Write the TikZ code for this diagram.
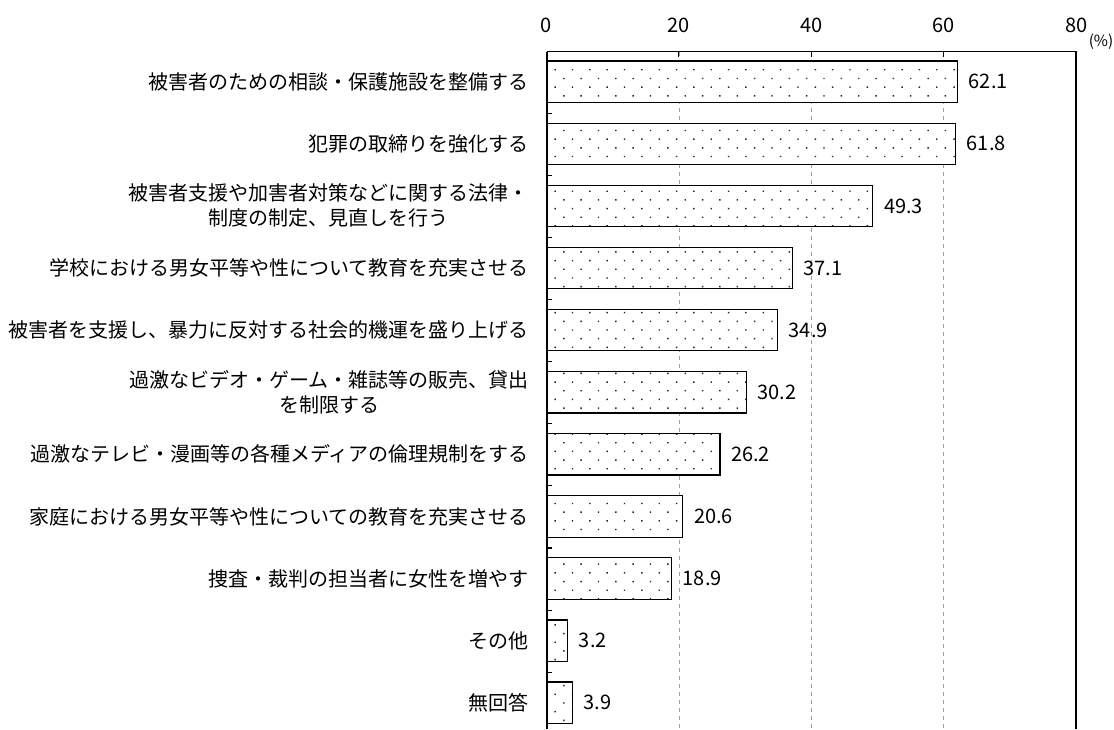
\documentclass[tikz,border=0pt]{standalone}
\usepackage{fontspec}
\setmainfont{Noto Sans CJK JP}
\usetikzlibrary{patterns.meta}
\begin{document}
\begin{tikzpicture}[x=0.75pt,y=-0.75pt,
    lab/.style={anchor=east,align=center,inner sep=0pt,
      font=\fontsize{15}{18.75}\selectfont},
    val/.style={anchor=west,inner sep=0pt,font=\fontsize{15}{18}\selectfont},
    bar/.style={draw=black,line width=0.9pt,preaction={fill=white},
      pattern={Dots[angle=45,distance=9.2pt,radius=0.75pt]},pattern color=black!85},
    grid/.style={draw=gray!75,dashed,line width=0.6pt}]
  \useasboundingbox (0,0) rectangle (1114,729);
  % scale: 0 % at 546.5, 6.62 per %
  \foreach \t in {20,40,60} {
    \draw[grid] ({546.5+\t*6.62},51.7) -- ({546.5+\t*6.62},729);
    \draw[line width=0.8pt] ({546.5+\t*6.62},51.7) -- ++(0,5);
  }
  \foreach \t in {0,20,40,60,80}
    \node[font=\fontsize{15}{18}\selectfont] (tick\t) at ({546.5+\t*6.62},25) {\t};
  \node[font=\fontsize{11.5}{13}\selectfont] (pct) at (1101,42) {(\%)};
  \draw[line width=1.1pt] (546.5,51.7) -- (1076,51.7) -- (1076,729);
  \foreach \k in {0,...,10}
    \draw[line width=0.8pt] (546.5,{113.3+\k*62.1}) -- ++(5,0);
  % bars
  \foreach \lab/\val [count=\i] in {
      {被害者のための相談・保護施設を整備する}/62.1,
      {犯罪の取締りを強化する}/61.8,
      {被害者支援や加害者対策などに関する法律・\\制度の制定、見直しを行う}/49.3,
      {学校における男女平等や性について教育を充実させる}/37.1,
      {被害者を支援し、暴力に反対する社会的機運を盛り上げる}/34.9,
      {過激なビデオ・ゲーム・雑誌等の販売、貸出\\を制限する}/30.2,
      {過激なテレビ・漫画等の各種メディアの倫理規制をする}/26.2,
      {家庭における男女平等や性についての教育を充実させる}/20.6,
      {捜査・裁判の担当者に女性を増やす}/18.9,
      {その他}/3.2,
      {無回答}/3.9} {
    \pgfmathsetmacro{\yc}{81.7+(\i-1)*62.1}
    \pgfmathsetmacro{\xe}{546.5+\val*6.62}
    \draw[bar] (546.5,\yc-20.7) rectangle (\xe,\yc+20.7);
    \coordinate (end\i) at (\xe,\yc);
    \node[val] (val\i) at ([xshift=8.25pt]end\i) {\val};
    \node[lab] (lab\i) at (529,\yc) {\lab};
  }
  \draw[line width=1.5pt] (546.5,51.7) -- (546.5,729);
\end{tikzpicture}
\end{document}
